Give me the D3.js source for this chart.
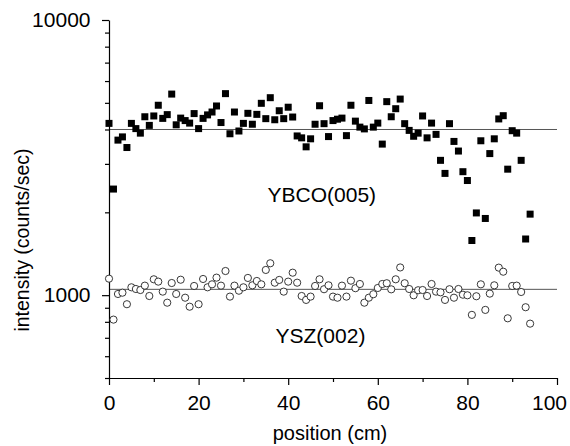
<!DOCTYPE html>
<html>
<head>
<meta charset="utf-8">
<script src="https://cdn.jsdelivr.net/npm/d3@7"></script>
<style>
    body { margin: 0; background: #fff; }
    svg { display: block; font-family: "Liberation Sans", Arial, sans-serif; }
</style>
</head>
<body>
<svg id="chart" width="570" height="446"></svg>
<script>
// position along the tape (cm)
var positions = [0,1,2,3,4,5,6,7,8,9,10,11,12,13,14,15,16,17,18,19,
    20,21,22,23,24,25,26,27,28,29,30,31,32,33,34,35,36,37,38,39,
    40,41,42,43,44,45,46,47,48,49,50,51,52,53,54,55,56,57,58,59,
    60,61,62,63,64,65,66,67,68,69,70,71,72,73,74,75,76,77,78,79,
    80,81,82,83,84,85,86,87,88,89,90,91,92,93,94];

// YBCO(005) peak intensity, counts/sec
var ybco = [4210,2430,3660,3760,3440,4210,4030,3880,4450,4140,
    4480,4900,4390,4530,5380,4160,4400,4310,4220,4570,
    4030,4390,4520,4630,4870,4240,5400,3860,4630,3950,
    4210,4580,4180,4540,4980,4380,5220,4340,4680,4380,
    4820,4440,3790,3730,3460,3700,4180,4880,4200,3770,
    4310,4360,4400,3800,4900,4290,4080,4020,5100,4080,
    4220,3540,5050,4450,4760,5160,4200,3970,3780,3880,
    4480,3730,4220,3840,3090,2770,4200,3620,3340,2810,
    2610,1580,1990,3640,1900,3270,3700,4370,4490,2870,
    3960,3880,3090,1600,1970];

// YSZ(002) peak intensity, counts/sec
var ysz = [1148,815,1010,1021,927,1068,1053,1044,1083,993,
    1142,1120,1030,939,1107,1010,1138,979,908,1080,
    927,1145,1068,1095,1158,1083,1224,988,1083,1038,
    1068,1155,1086,1126,1095,1235,1306,1110,1136,1030,
    1120,1207,1110,993,961,988,1080,1142,1051,1086,
    988,979,1083,988,1129,1060,1098,939,979,1008,
    1062,1098,1105,1050,1142,1261,1105,1053,999,1042,
    1044,993,1098,1030,1024,961,1051,979,1053,1004,
    999,848,991,1095,884,1013,1086,1259,1217,824,
    1080,1083,1027,904,788];

// average levels drawn as horizontal lines
var levels = [4000, 1050];

var xTicks = [0, 20, 40, 60, 80, 100];
var xMinorTicks = [10, 30, 50, 70, 90];
var yTicks = [1000, 10000];
var yMinorTicks = [500,600,700,800,900,2000,3000,4000,5000,6000,7000,8000,9000];

var labels = [
    {text: "YBCO(005)", x: 47.5, y: 2186},
    {text: "YSZ(002)", x: 47.2, y: 670}
];

document.addEventListener("DOMContentLoaded", function(){
    var svg = d3.select("#chart");

    var x = d3.scaleLinear().domain([0, 100]).range([109, 557]);
    var y = d3.scaleLog().domain([500, 10000]).range([378, 20]);

    // reference lines
    svg.append("g")
        .selectAll("line")
        .data(levels)
        .enter()
        .append("line")
        .attr("x1", x(0))
        .attr("x2", x(100))
        .attr("y1", function(d){ return y(d); })
        .attr("y2", function(d){ return y(d); })
        .attr("stroke", "#555")
        .attr("stroke-width", 1);

    // minor ticks
    svg.append("g")
        .attr("transform", "translate(0," + y(500) + ")")
        .call(d3.axisBottom(x).tickValues(xMinorTicks).tickSize(4).tickSizeOuter(0).tickFormat(""))
        .call(function(g){ g.select(".domain").remove(); });
    svg.append("g")
        .attr("transform", "translate(" + x(0) + ",0)")
        .call(d3.axisLeft(y).tickValues(yMinorTicks).tickSize(4).tickSizeOuter(0).tickFormat(""))
        .call(function(g){ g.select(".domain").remove(); });

    // main axes
    var xAxis = svg.append("g")
        .attr("transform", "translate(0," + y(500) + ")")
        .call(d3.axisBottom(x)
            .tickValues(xTicks)
            .tickSize(7)
            .tickSizeOuter(0)
            .tickPadding(10)
            .tickFormat(d3.format("d")));
    // last label is pulled in a little so it stays inside the frame
    xAxis.selectAll(".tick text")
        .filter(function(d){ return d === 100; })
        .attr("dx", -8);

    var yAxis = svg.append("g")
        .attr("transform", "translate(" + x(0) + ",0)")
        .call(d3.axisLeft(y)
            .tickValues(yTicks)
            .tickSize(7)
            .tickSizeOuter(0)
            .tickPadding(11.5)
            .tickFormat(d3.format("d")));

    svg.selectAll(".tick text")
        .style("font-size", "21px")
        .attr("fill", "#000")
        .style("font-family", "'Liberation Sans', Arial, sans-serif");
    svg.selectAll(".domain, .tick line")
        .attr("stroke", "#000")
        .attr("stroke-width", 1.2);

    // data
    var points = positions.map(function(p, i){
        return {pos: p, ybco: ybco[i], ysz: ysz[i]};
    });

    svg.append("g")
        .selectAll("rect")
        .data(points)
        .enter()
        .append("rect")
        .attr("x", function(d){ return x(d.pos) - 3.5; })
        .attr("y", function(d){ return y(d.ybco) - 3.5; })
        .attr("width", 7)
        .attr("height", 7)
        .attr("fill", "#000");

    svg.append("g")
        .selectAll("circle")
        .data(points)
        .enter()
        .append("circle")
        .attr("cx", function(d){ return x(d.pos); })
        .attr("cy", function(d){ return y(d.ysz); })
        .attr("r", 3.6)
        .attr("fill", "#fff")
        .attr("stroke", "#222")
        .attr("stroke-width", 0.9);

    // series labels
    svg.append("g")
        .selectAll("text")
        .data(labels)
        .enter()
        .append("text")
        .attr("x", function(d){ return x(d.x); })
        .attr("y", function(d){ return y(d.y); })
        .attr("text-anchor", "middle")
        .style("font-size", "21px")
        .text(function(d){ return d.text; });

    // axis titles
    svg.append("text")
        .attr("x", 330)
        .attr("y", 440)
        .attr("text-anchor", "middle")
        .style("font-size", "20px")
        .text("position (cm)");

    svg.append("text")
        .attr("transform", "rotate(-90)")
        .attr("x", -240)
        .attr("y", 29)
        .attr("text-anchor", "middle")
        .style("font-size", "19.5px")
        .text("intensity (counts/sec)");
});
</script>
</body>
</html>
